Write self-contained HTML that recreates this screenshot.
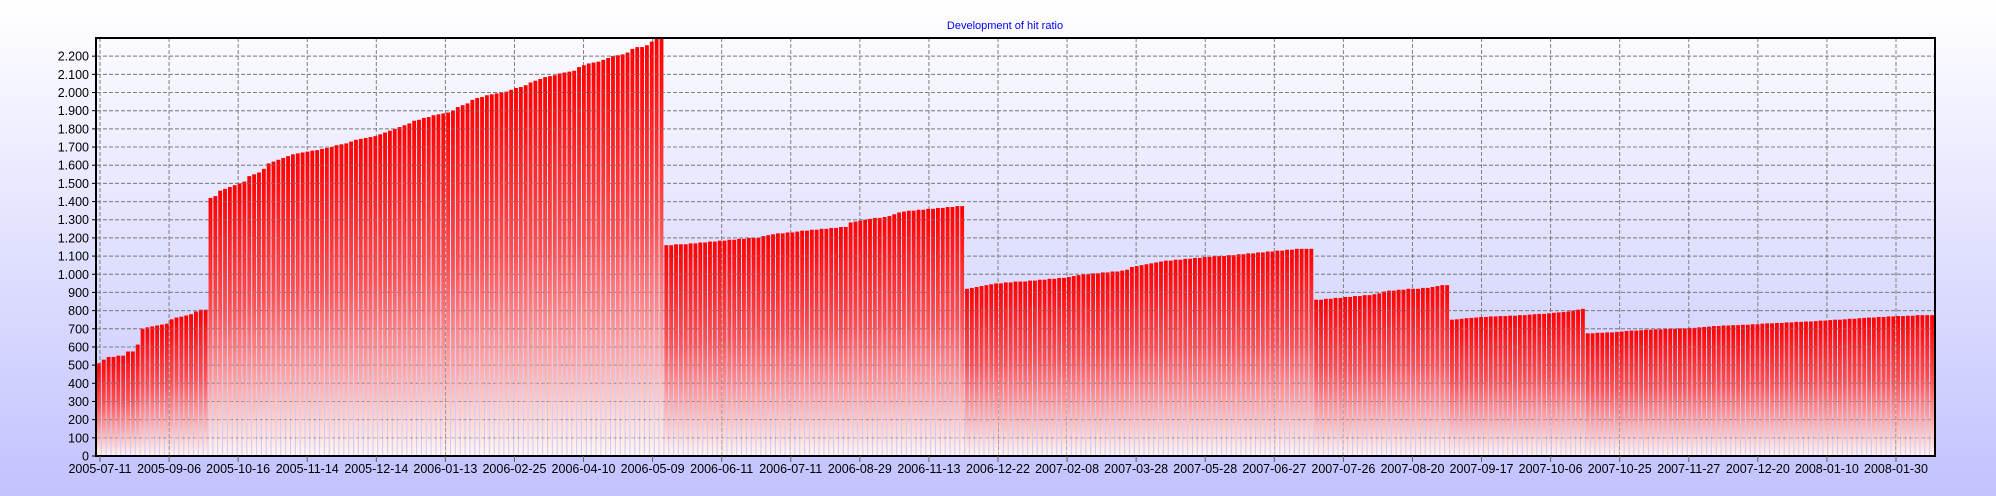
<!DOCTYPE html>
<html><head><meta charset="utf-8"><style>
html,body{margin:0;padding:0;width:1996px;height:496px;overflow:hidden;background:linear-gradient(#ffffff,#c2c2ff);font-family:"Liberation Sans",sans-serif}
</style></head><body>
<svg id="chart" width="1996" height="496" xmlns="http://www.w3.org/2000/svg">
<defs><linearGradient id="bg" x1="0" y1="0" x2="0" y2="1"><stop offset="0" stop-color="#ff0000"/><stop offset="0.45" stop-color="#ff5050"/><stop offset="1" stop-color="#fff6f2"/></linearGradient></defs>
<text x="1005" y="29" text-anchor="middle" font-size="11" fill="#0000ff">Development of hit ratio</text>
<g id="grid"></g><g id="bars"></g><g id="gridTop" opacity="0.45"></g><g id="axes"></g>
</svg>
<script>
const seg1=[510,530,545,545,552,552,575,575,613,700,708,713,718,723,728,752,762,767,773,780,795,805,805];
const seg2=[1420,1430,1460,1470,1480,1490,1500,1510,1540,1550,1560,1580,1610,1620,1630,1640,1650,1660,1665,1670,1675,1680,1683,1690,1695,1700,1710,1715,1720,1730,1740,1745,1750,1755,1760,1770,1780,1790,1800,1810,1820,1830,1845,1850,1860,1865,1875,1880,1885,1890,1900,1920,1930,1940,1960,1970,1975,1985,1990,1995,2000,2005,2015,2025,2030,2040,2055,2065,2075,2085,2090,2095,2105,2110,2115,2120,2140,2150,2160,2165,2170,2180,2190,2200,2205,2210,2220,2240,2250,2250,2260,2280,2300,2300];
const seg3=[1160,1160,1165,1165,1165,1170,1170,1175,1175,1180,1180,1185,1185,1190,1190,1195,1195,1200,1200,1200,1210,1215,1220,1225,1225,1230,1230,1235,1240,1240,1245,1245,1250,1250,1255,1255,1260,1260,1285,1290,1295,1300,1305,1310,1310,1315,1320,1330,1340,1345,1350,1350,1355,1355,1360,1360,1365,1365,1370,1370,1375,1375];
const seg4=[920,925,930,935,940,945,950,950,955,955,960,960,960,965,965,970,970,975,975,980,980,985,990,995,1000,1000,1005,1005,1010,1010,1015,1015,1020,1025,1040,1045,1050,1055,1060,1065,1070,1075,1075,1080,1080,1085,1085,1090,1090,1095,1095,1100,1100,1100,1105,1105,1110,1110,1115,1115,1120,1120,1125,1125,1130,1130,1135,1135,1140,1140,1140,1140];
const seg5=[860,860,865,865,870,870,875,875,880,880,885,885,890,895,905,910,910,915,915,920,920,920,925,925,930,935,940,940];
const seg6=[750,752,755,758,760,762,765,765,768,768,770,770,772,772,775,775,778,780,782,782,785,788,790,792,795,800,805,810];
const seg7=[675,675,678,678,680,680,683,685,688,690,690,692,695,695,697,697,700,700,700,702,702,705,705,708,710,712,715,715,718,718,720,720,722,722,725,725,728,730,730,732,732,735,735,738,738,740,740,742,745,745,748,750,750,752,755,755,758,760,762,762,765,765,768,768,770,770,772,772,775,775,775,775];
const xLabels=["2005-07-11","2005-09-06","2005-10-16","2005-11-14","2005-12-14","2006-01-13","2006-02-25","2006-04-10","2006-05-09","2006-06-11","2006-07-11","2006-08-29","2006-11-13","2006-12-22","2007-02-08","2007-03-28","2007-05-28","2007-06-27","2007-07-26","2007-08-20","2007-09-17","2007-10-06","2007-10-25","2007-11-27","2007-12-20","2008-01-10","2008-01-30"];
const yTicks=[0,100,200,300,400,500,600,700,800,900,1000,1100,1200,1300,1400,1500,1600,1700,1800,1900,2000,2100,2200];
const values=[].concat(seg1,seg2,seg3,seg4,seg5,seg6,seg7);
const NS="http://www.w3.org/2000/svg";
const L=97,R=1935,T=38,B=456,YMAX=2300;
const y=v=>B-(v/YMAX)*(B-T);
const pitch=(R-L)/values.length;
const xb=i=>L+i*pitch;
const xt=i=>100+i*(1896-100)/(xLabels.length-1);
function mk(tag,attrs,parent){const e=document.createElementNS(NS,tag);for(const k in attrs)e.setAttribute(k,attrs[k]);parent.appendChild(e);return e;}
const grid=document.getElementById('grid'),bars=document.getElementById('bars'),gt=document.getElementById('gridTop'),axes=document.getElementById('axes');
yTicks.forEach(v=>{if(v===0)return;
 const l=mk('line',{x1:L,x2:R,y1:y(v),y2:y(v),stroke:'#808080','stroke-dasharray':'4 2'},grid);
 
 
 const l2=mk('line',{x1:L,x2:R,y1:y(v),y2:y(v),stroke:'#808080','stroke-dasharray':'4 2'},gt);
 
 
});
xLabels.forEach((s,i)=>{
 const l=mk('line',{x1:xt(i),x2:xt(i),y1:T,y2:B,stroke:'#808080','stroke-dasharray':'4 2'},grid);
 
 
});
values.forEach((v,i)=>{
 const r=mk('rect',{x:xb(i),y:y(v),width:Math.max(pitch-1,1),height:B-y(v),fill:'url(#bg)'},bars);
 
 
});
const ax=mk('path',{d:`M${L-1},${T} V${B} H${R} V${T} Z`,fill:'none',stroke:'#000','stroke-width':2},axes);


yTicks.forEach(v=>{
 const t=mk('line',{x1:L-5,x2:L-1,y1:y(v),y2:y(v),stroke:'#000'},axes);
 
 
 const tx=mk('text',{x:L-8,y:y(v)+4.5,'text-anchor':'end','font-size':12.5,fill:'#000'},axes);
 tx.textContent=v===0?'0':(v>=1000?Math.floor(v/1000)+'.'+String(v%1000).padStart(3,'0'):String(v));
 
 
});
xLabels.forEach((s,i)=>{
 const t=mk('line',{x1:xt(i),x2:xt(i),y1:B,y2:B+6,stroke:'#606060'},axes);
 
 
 const tx=mk('text',{x:xt(i),y:B+17,'text-anchor':'middle','font-size':12.5,fill:'#000'},axes);
 tx.textContent=s;
 
 
});
</script>
</body></html>
